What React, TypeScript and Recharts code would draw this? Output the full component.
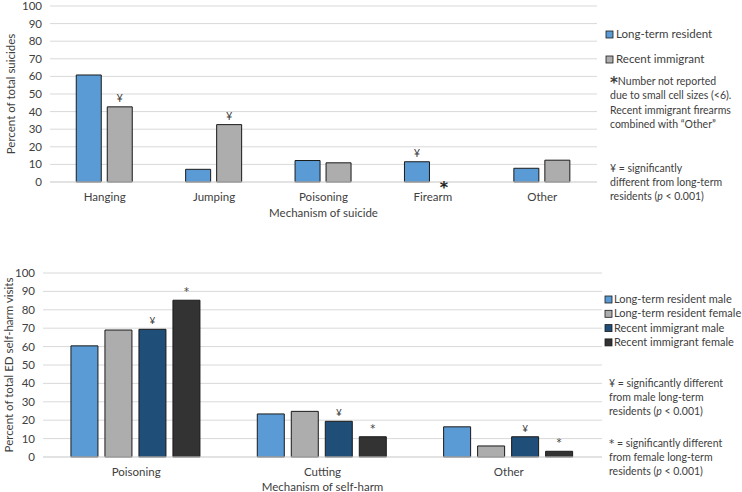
import React from 'react';
import { BarChart, Bar, XAxis, YAxis, CartesianGrid, LabelList, Label, ReferenceDot, Legend } from 'recharts';

// ---- Top chart: suicides ----
const suicideCategories = ['Hanging', 'Jumping', 'Poisoning', 'Firearm', 'Other'];
const longTermResident = [60.8, 7.2, 12.2, 11.5, 7.8];
const recentImmigrant: (number | null)[] = [42.7, 32.6, 10.9, null, 12.4];
const longTermMarks = ['', '', '', '¥', ''];
const recentMarks = ['¥', '¥', '', '', '¥'];
const notReportedCategory = 'Firearm';
const topSeriesNames = ['Long-term resident', 'Recent immigrant'];

// ---- Bottom chart: self-harm ED visits ----
const harmCategories = ['Poisoning', 'Cutting', 'Other'];
const ltMale = [60.4, 23.4, 16.4];
const ltFemale = [69.0, 24.8, 6.0];
const riMale = [69.4, 19.4, 11.0];
const riFemale = [85.2, 11.0, 3.1];
const riMaleMarks = ['¥', '¥', '¥'];
const riFemaleMarks = ['*', '*', '*'];
const bottomSeriesNames = [
  'Long-term resident male',
  'Long-term resident female',
  'Recent immigrant male',
  'Recent immigrant female',
];

const yTicks = [0, 10, 20, 30, 40, 50, 60, 70, 80, 90, 100];

const FONT = 'Lato, "Open Sans", sans-serif';
const SYM = '"DejaVu Sans", sans-serif';
const TXT = '#404040';
const C_BLUE = '#5B9BD5';
const C_GRAY = '#ADADAD';
const C_NAVY = '#1F4E79';
const C_DARK = '#333333';
const STROKE = '#1a1a1a';
const FS = 11.5;

const topData = suicideCategories.map((c, i) => ({
  cat: c,
  lt: longTermResident[i],
  ri: recentImmigrant[i],
}));

const bottomData = harmCategories.map((c, i) => ({
  cat: c,
  ltm: ltMale[i],
  ltf: ltFemale[i],
  rim: riMale[i],
  rif: riFemale[i],
}));

const markLabel = (marks: string[], size = 11, family = FONT) => (props: any) => {
  const { x, y, width, index } = props;
  const m = marks[index];
  if (!m || x == null) return null;
  return (
    <text x={x + width / 2} y={y - 5} textAnchor="middle" fontSize={size} fontFamily={family} fill={TXT}>
      {m}
    </text>
  );
};

const Square = ({ x, y, color }: { x: number; y: number; color: string }) => (
  <rect x={x} y={y} width={7} height={7} fill={color} stroke={STROKE} strokeWidth={0.8} />
);

const ordered = (payload: any[], names: string[]) =>
  [...payload].sort((a, b) => names.indexOf(a.value) - names.indexOf(b.value));

const topLegend = (props: any) => {
  const payload = ordered(props.payload || [], topSeriesNames);
  return (
    <svg width={136} height={180} style={{ overflow: 'visible', fontFamily: FONT, display: 'block' }}>
      {payload.map((p: any, i: number) => (
        <g key={p.value}>
          <Square x={1} y={3 + i * 25} color={p.color} />
          <text x={11} y={10 + i * 25} fontSize={FS} fill={TXT}>{p.value}</text>
        </g>
      ))}
      <text x={5} y={57} fontSize={10.5} fill={TXT}>
        <tspan fontSize={15} fontFamily={SYM} fontWeight="bold" dy={3}>*</tspan>
        <tspan dy={-3}>Number not reported</tspan>
      </text>
      <text x={5} y={71} fontSize={10.5} fill={TXT}>due to small cell sizes (&lt;6).</text>
      <text x={5} y={86} fontSize={10.5} fill={TXT}>Recent immigrant firearms</text>
      <text x={5} y={100} fontSize={10.5} fill={TXT}>combined with “Other”</text>
      <text x={5} y={144} fontSize={10.5} fill={TXT}>¥ = significantly</text>
      <text x={5} y={158} fontSize={10.5} fill={TXT}>different from long-term</text>
      <text x={5} y={172} fontSize={10.5} fill={TXT}>
        residents (<tspan fontStyle="italic">p</tspan> &lt; 0.001)
      </text>
    </svg>
  );
};

const bottomLegend = (props: any) => {
  const payload = ordered(props.payload || [], bottomSeriesNames);
  return (
    <svg width={137} height={200} style={{ overflow: 'visible', fontFamily: FONT, display: 'block' }}>
      {payload.map((p: any, i: number) => (
        <g key={p.value}>
          <Square x={1} y={3 + i * 14.3} color={p.color} />
          <text x={10} y={10 + i * 14.3} fontSize={11} fill={TXT}>{p.value}</text>
        </g>
      ))}
      <text x={5} y={94} fontSize={10.5} fill={TXT}>¥ = significantly different</text>
      <text x={5} y={108} fontSize={10.5} fill={TXT}>from male long-term</text>
      <text x={5} y={122} fontSize={10.5} fill={TXT}>
        residents (<tspan fontStyle="italic">p</tspan> &lt; 0.001)
      </text>
      <text x={5} y={154} fontSize={10.5} fill={TXT}>
        <tspan fontFamily={SYM}>*</tspan> = significantly different
      </text>
      <text x={5} y={168} fontSize={10.5} fill={TXT}>from female long-term</text>
      <text x={5} y={182} fontSize={10.5} fill={TXT}>
        residents (<tspan fontStyle="italic">p</tspan> &lt; 0.001)
      </text>
    </svg>
  );
};

const yLabel = (text: string, cx: number) => (props: any) => {
  const vb = props.viewBox;
  const cy = vb.y + vb.height / 2;
  return (
    <text x={cx} y={cy} transform={`rotate(-90, ${cx}, ${cy})`} textAnchor="middle" dominantBaseline="central"
      fontSize={FS} fontFamily={FONT} fill={TXT}>
      {text}
    </text>
  );
};

const tickStyle = { fontSize: FS, fill: TXT, fontFamily: FONT };

export default function App() {
  return (
    <div style={{ position: 'absolute', left: 0, top: 0, width: 742, height: 492, background: '#fff', fontFamily: FONT, overflow: 'hidden' }}>
      <div style={{ position: 'absolute', left: 0, top: 0 }}>
        <BarChart
          width={742}
          height={230}
          data={topData}
          margin={{ top: 6, right: 145, left: 0, bottom: 18 }}
          barCategoryGap="24%"
          barGap={6}
        >
          <CartesianGrid vertical={false} stroke="#D9D9D9" />
          <XAxis dataKey="cat" tickLine={false} axisLine={{ stroke: '#D9D9D9' }} tick={tickStyle} tickMargin={5} height={30}>
            <Label value="Mechanism of suicide" position="bottom" offset={-3} style={{ fontSize: FS, fill: TXT, fontFamily: FONT }} />
          </XAxis>
          <YAxis width={50} domain={[0, 100]} ticks={yTicks} interval={0} tickLine={false} axisLine={false} tick={tickStyle}>
            <Label content={yLabel('Percent of total suicides', 10)} />
          </YAxis>
          <Legend
            layout="horizontal"
            verticalAlign="middle"
            align="center"
            content={topLegend}
            wrapperStyle={{ position: 'absolute', left: 605, top: 28, width: 136, height: 180 }}
          />
          <Bar dataKey="lt" name="Long-term resident" fill={C_BLUE} stroke={STROKE} strokeWidth={1} isAnimationActive={false}>
            <LabelList dataKey="lt" content={markLabel(longTermMarks)} />
          </Bar>
          <Bar dataKey="ri" name="Recent immigrant" fill={C_GRAY} stroke={STROKE} strokeWidth={1} isAnimationActive={false}>
            <LabelList dataKey="ri" content={markLabel(recentMarks)} />
          </Bar>
          <ReferenceDot
            x={notReportedCategory}
            y={0}
            r={0}
            fill="none"
            stroke="none"
            ifOverflow="visible"
            label={(p: any) => (
              <text x={p.viewBox.x + 11} y={p.viewBox.y + 11} textAnchor="middle" fontSize={16} fontWeight="bold" fontFamily={SYM} fill="#222">
                *
              </text>
            )}
          />
        </BarChart>
      </div>
      <div style={{ position: 'absolute', left: 0, top: 250 }}>
        <BarChart
          width={742}
          height={242}
          data={bottomData}
          margin={{ top: 23, right: 140, left: 0, bottom: 5 }}
          barCategoryGap="15%"
          barGap={7}
        >
          <CartesianGrid vertical={false} stroke="#D9D9D9" />
          <XAxis dataKey="cat" tickLine={false} axisLine={{ stroke: '#D9D9D9' }} tick={tickStyle} tickMargin={5} height={30}>
            <Label value="Mechanism of self-harm" position="bottom" offset={-4} style={{ fontSize: FS, fill: TXT, fontFamily: FONT }} />
          </XAxis>
          <YAxis width={43} domain={[0, 100]} ticks={yTicks} interval={0} tickLine={false} axisLine={false} tick={tickStyle}>
            <Label content={yLabel('Percent of total ED self-harm visits', 8)} />
          </YAxis>
          <Legend
            layout="horizontal"
            verticalAlign="middle"
            align="center"
            content={bottomLegend}
            wrapperStyle={{ position: 'absolute', left: 604, top: 43, width: 137, height: 200 }}
          />
          <Bar dataKey="ltm" name="Long-term resident male" fill={C_BLUE} stroke={STROKE} strokeWidth={1} isAnimationActive={false} />
          <Bar dataKey="ltf" name="Long-term resident female" fill={C_GRAY} stroke={STROKE} strokeWidth={1} isAnimationActive={false} />
          <Bar dataKey="rim" name="Recent immigrant male" fill={C_NAVY} stroke={STROKE} strokeWidth={1} isAnimationActive={false}>
            <LabelList dataKey="rim" content={markLabel(riMaleMarks, 10)} />
          </Bar>
          <Bar dataKey="rif" name="Recent immigrant female" fill={C_DARK} stroke={STROKE} strokeWidth={1} isAnimationActive={false}>
            <LabelList dataKey="rif" content={markLabel(riFemaleMarks, 10, SYM)} />
          </Bar>
        </BarChart>
      </div>
    </div>
  );
}
